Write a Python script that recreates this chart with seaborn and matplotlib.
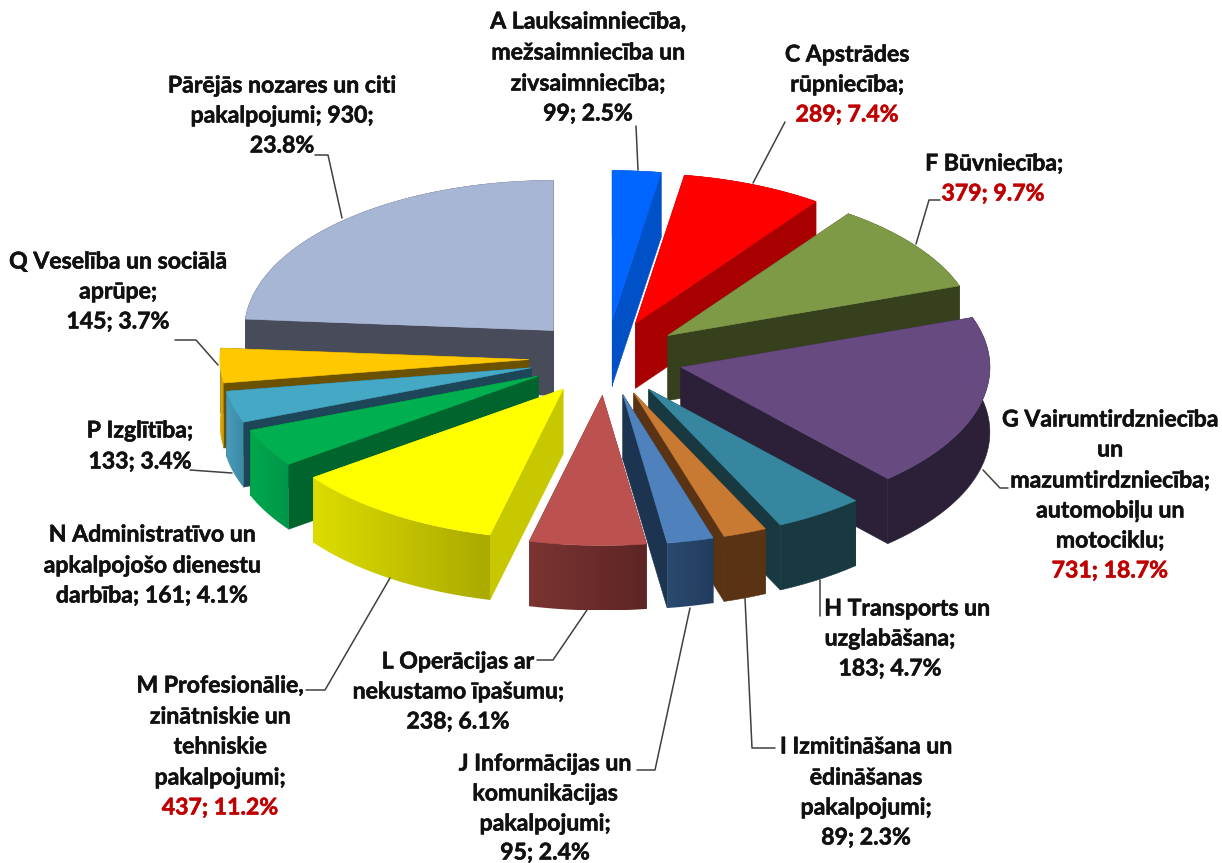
"""
Exploded 3D style pie chart, drawn from the sector values.
"""

import numpy as np
import matplotlib.pyplot as plt
import matplotlib.patheffects as pe
from matplotlib.patches import Polygon
import seaborn as sns

# sector values, clockwise from 12 o'clock
nozares = ['A', 'C', 'F', 'G', 'H', 'I', 'J', 'L', 'M', 'N', 'P', 'Q', 'Citi']
vertibas = [99, 289, 379, 731, 183, 89, 95, 238, 437, 161, 133, 145, 930]

krasa_virsa = ['#0066ff', '#ff0000', '#7f9a47', '#664a80', '#36869f', '#c87a32', '#4f81bd',
               '#bc5250', '#ffff00', '#00b050', '#45a8c4', '#ffc800', '#a8b6d6']
krasa_griezums = ['#0050c8', '#a80000', '#36401c', '#2c2038', '#17393f', '#5a3315', '#1c3450',
                  '#6f2f2e', '#c8c800', '#00652d', '#1d4759', '#6b5200', '#474b5a']
krasa_mala_kreisa = ['#0050c8', '#a80000', '#36401c', '#2c2038', '#17393f', '#5a3315', '#2a4a70',
                     '#7a3432', '#dcdc00', '#00a84c', '#4a9cb8', '#e6ad00', '#474b5a']
krasa_mala_laba = ['#0050c8', '#a80000', '#36401c', '#2c2038', '#17393f', '#5a3315', '#223c5e',
                   '#5e2524', '#aaaa00', '#00964a', '#3a8aa6', '#c89800', '#474b5a']

# label lines: text, x centre, y centre, red or not
etiketes = [
    ('A Lauksaimniecība,', 588, 22, 0), ('mežsaimniecība un', 588, 53, 0),
    ('zivsaimniecība;', 588, 84, 0), ('99; 2.5%', 588, 114, 0),
    ('C Apstrādes', 847, 55, 0), ('rūpniecība;', 847, 85, 0), ('289; 7.4%', 847, 115, 1),
    ('F Būvniecība;', 994, 164, 0), ('379; 9.7%', 993, 194, 1),
    ('G Vairumtirdzniecība', 1110, 420, 0), ('un', 1110, 450, 0),
    ('mazumtirdzniecība;', 1110, 481, 0), ('automobiļu un', 1110, 511, 0),
    ('motociklu;', 1110, 541, 0), ('731; 18.7%', 1110, 571, 1),
    ('H Transports un', 907, 609, 0), ('uzglabāšana;', 890, 639, 0), ('183; 4.7%', 890, 669, 0),
    ('I Izmitināšana un', 866, 747, 0), ('ēdināšanas', 866, 778, 0),
    ('pakalpojumi;', 866, 808, 0), ('89; 2.3%', 866, 838, 0),
    ('J Informācijas un', 545, 764, 0), ('komunikācijas', 545, 794, 0),
    ('pakalpojumi;', 545, 824, 0), ('95; 2.4%', 545, 853, 0),
    ('L Operācijas ar', 458, 662, 0), ('nekustamo īpašumu;', 458, 692, 0), ('238; 6.1%', 458, 722, 0),
    ('M Profesionālie,', 220, 686, 0), ('zinātniskie un', 220, 717, 0), ('tehniskie', 220, 747, 0),
    ('pakalpojumi;', 220, 778, 0), ('437; 11.2%', 220, 808, 1),
    ('N Administratīvo un', 152, 535, 0), ('apkalpojošo dienestu', 152, 566, 0),
    ('darbība; 161; 4.1%', 152, 596, 0),
    ('P Izglītība;', 140, 431, 0), ('133; 3.4%', 140, 462, 0),
    ('Q Veselība un sociālā', 118, 262, 0), ('aprūpe;', 118, 292, 0), ('145; 3.7%', 118, 322, 0),
    ('Pārējās nozares un citi', 282, 86, 0), ('pakalpojumi; 930;', 282, 116, 0), ('23.8%', 282, 146, 0),
]

# leader lines in picture pixels
lineas = [
    [(636, 126), (638, 170)],
    [(785, 122), (753, 183)],
    [(940, 200), (929, 200), (916, 244)],
    [(1008, 488), (1000, 488), (983, 470)],
    [(820, 580), (820, 616)],
    [(745, 598), (752, 748), (775, 748)],
    [(690, 608), (655, 770), (637, 770)],
    [(587, 610), (553, 660), (537, 660)],
    [(390, 578), (325, 690), (306, 690)],
    [(190, 470), (232, 473)],
    [(175, 340), (196, 340), (218, 365)],
    [(342, 218), (328, 155), (315, 155)],
]

# pie geometry, pixels
CX, CY = 606, 358
RX, RY = 309, 150
DZIJUMS = 65
IZBIDE = 0.25


def punkts(th, r, th_vid):
    """Top face point for angle th (clockwise from top), exploded along th_vid."""
    x = CX + RX * (r * np.sin(th) + IZBIDE * np.sin(th_vid))
    y = CY - RY * (r * np.cos(th) + IZBIDE * np.cos(th_vid))
    return np.column_stack([x, y])


def zimet_sektoru(ax, t0, t1, i, z):
    vid = (t0 + t1) / 2
    lenki = np.linspace(t0, t1, max(int(np.degrees(t1 - t0)) * 3, 4) + 1)
    loks = punkts(lenki, 1.0, vid)
    centrs = punkts(np.array([vid]), 0.0, vid)[0]
    lejup = np.array([0, DZIJUMS])

    # cut faces
    for mala in (loks[0], loks[-1]):
        poly = [centrs, mala, mala + lejup, centrs + lejup]
        ax.add_patch(Polygon(poly, fc=krasa_griezums[i], ec=krasa_griezums[i], lw=0.4, zorder=z))

    # outer rim, flat or with a left to right shade
    rims = np.vstack([loks, (loks + lejup)[::-1]])
    if krasa_mala_kreisa[i] == krasa_mala_laba[i]:
        ax.add_patch(Polygon(rims, fc=krasa_mala_kreisa[i], ec=krasa_mala_kreisa[i], lw=0.4,
                             zorder=z + 0.1))
    else:
        xmin, xmax = rims[:, 0].min(), rims[:, 0].max()
        ymin, ymax = rims[:, 1].min(), rims[:, 1].max()
        tonis = sns.blend_palette([krasa_mala_kreisa[i], krasa_mala_laba[i]], 64)
        attels = np.array(tonis)[np.newaxis, :, :]
        im = ax.imshow(attels, extent=(xmin, xmax, ymax, ymin), aspect='auto',
                       interpolation='bilinear', zorder=z + 0.1)
        maska = Polygon(rims, transform=ax.transData, fc='none', ec='none')
        ax.add_patch(maska)
        im.set_clip_path(maska)

    # top face
    ax.add_patch(Polygon(np.vstack([centrs, loks]), fc=krasa_virsa[i], ec=krasa_virsa[i],
                         lw=0.4, zorder=z + 0.2))


sns.set_theme(style='white')
plt.rcParams['font.family'] = ['Lato', 'DejaVu Sans']

fig, ax = plt.subplots(figsize=(12.22, 8.63), dpi=100)
fig.subplots_adjust(0, 0, 1, 1)

v = np.array(vertibas, dtype=float)
robezas = np.concatenate([[0], np.cumsum(v)]) / v.sum() * 2 * np.pi
vidus = (robezas[:-1] + robezas[1:]) / 2

# back sectors first
for z, i in enumerate(np.argsort(-np.cos(vidus))):
    zimet_sektoru(ax, robezas[i], robezas[i + 1], i, z + 1)

ax.set_xlim(0, 1222)
ax.set_ylim(863, 0)
ax.axis('off')

for l in lineas:
    xs, ys = zip(*l)
    ax.plot(xs, ys, color='#404040', lw=1.1, zorder=50)

for teksts, x, y, sarkans in etiketes:
    krasa = '#c00000' if sarkans else '#111111'
    ax.text(x, y, teksts, ha='center', va='center', fontsize=16.6, fontweight='bold',
            color=krasa, zorder=60,
            path_effects=[pe.withStroke(linewidth=0.4, foreground=krasa)])

plt.savefig('out.png', dpi=100)
plt.close()
